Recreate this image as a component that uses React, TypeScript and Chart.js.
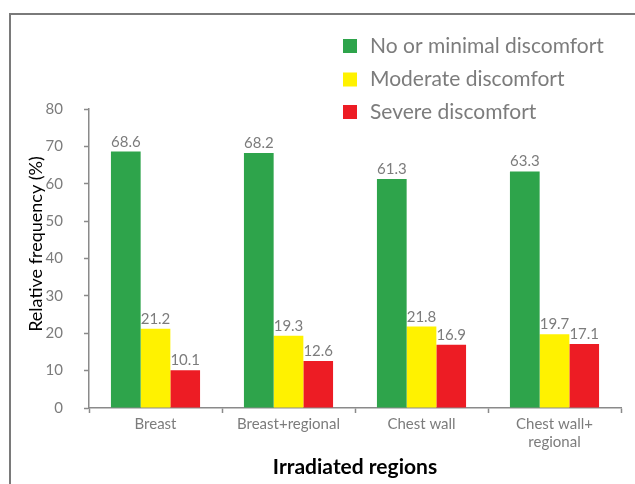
import React, { useEffect, useRef } from "react";
import { Chart, registerables } from "chart.js";

Chart.register(...registerables);

const categories: (string | string[])[] = ["Breast", "Breast+regional", "Chest wall", ["Chest wall+", "regional"]];
const seriesNames = ["No or minimal discomfort", "Moderate discomfort", "Severe discomfort"];
const noneMinimal = [68.6, 68.2, 61.3, 63.3];
const moderate = [21.2, 19.3, 21.8, 19.7];
const severe = [10.1, 12.6, 16.9, 17.1];
const seriesColors = ["#2ea44b", "#fff200", "#ed1c24"];
const yTicks = [0, 10, 20, 30, 40, 50, 60, 70, 80];
const yTitle = "Relative frequency (%)";
const xTitle = "Irradiated regions";

const FONT = "Lato, 'Open Sans', sans-serif";
const GRAY = "#7c7c7c";

const framePlugin = {
  id: "frame",
  beforeDraw(chart: any) {
    const ctx = chart.ctx;
    ctx.save();
    ctx.strokeStyle = "#7a7a7a";
    ctx.lineWidth = 2;
    ctx.beginPath();
    ctx.moveTo(10, chart.height);
    ctx.lineTo(10, 14);
    ctx.lineTo(chart.width, 14);
    ctx.stroke();
    ctx.restore();
  },
};

const yTitlePlugin = {
  id: "yTitle",
  afterDraw(chart: any) {
    const ctx = chart.ctx;
    ctx.save();
    ctx.translate(36, 244);
    ctx.rotate(-Math.PI / 2);
    ctx.font = `18px ${FONT}`;
    ctx.fillStyle = "#000";
    ctx.textAlign = "center";
    ctx.textBaseline = "middle";
    ctx.fillText(yTitle, 0, 0);
    ctx.restore();
  },
};

const valueLabelPlugin = {
  id: "valueLabels",
  afterDatasetsDraw(chart: any) {
    const ctx = chart.ctx;
    ctx.save();
    ctx.font = `15px ${FONT}`;
    ctx.fillStyle = GRAY;
    ctx.textAlign = "center";
    ctx.textBaseline = "alphabetic";
    chart.data.datasets.forEach((ds: any, di: number) => {
      const meta = chart.getDatasetMeta(di);
      meta.data.forEach((bar: any, i: number) => {
        ctx.fillText(ds.data[i].toFixed(1), bar.x, bar.y - 5);
      });
    });
    ctx.restore();
  },
};

const customLegendPlugin = {
  id: "customLegend",
  afterDraw(chart: any) {
    const ctx = chart.ctx;
    const rows = [46, 79.5, 112];
    ctx.save();
    ctx.font = `21px ${FONT}`;
    ctx.textBaseline = "middle";
    ctx.textAlign = "left";
    chart.data.datasets.forEach((ds: any, di: number) => {
      const cy = rows[di];
      ctx.fillStyle = ds.backgroundColor;
      ctx.fillRect(343, cy - 7, 14, 14);
      ctx.fillStyle = GRAY;
      ctx.fillText(ds.label, 370, cy);
    });
    ctx.restore();
  },
};

export default function App() {
  const ref = useRef<HTMLCanvasElement>(null);
  useEffect(() => {
    if (!ref.current) return;
    const seriesData = [noneMinimal, moderate, severe];
    const chart = new Chart(ref.current, {
      type: "bar",
      data: {
        labels: categories,
        datasets: seriesNames.map((name, i) => ({
          label: name,
          data: seriesData[i],
          backgroundColor: seriesColors[i],
          borderWidth: 0,
          categoryPercentage: 0.67,
          barPercentage: 1.0,
        })),
      },
      options: {
        responsive: false,
        animation: false,
        layout: { padding: { top: 109, right: 14, left: 0, bottom: 0 } },
        plugins: {
          legend: { display: false },
          tooltip: { enabled: false },
        },
        scales: {
          x: {
            afterFit: (s: any) => { s.height = 76; },
            grid: {
              display: true,
              drawOnChartArea: false,
              drawTicks: true,
              tickLength: 5,
              tickColor: "#8a8a8a",
              tickWidth: 1.5,
              offset: true,
            },
            border: { display: true, color: "#8a8a8a", width: 1.5 },
            ticks: {
              color: GRAY,
              font: { family: FONT, size: 15 },
              padding: 2,
              maxRotation: 0,
              autoSkip: false,
            },
            title: {
              display: true,
              text: xTitle,
              color: "#000",
              font: { family: FONT, size: 21, weight: "bold" },
              padding: { top: 0, bottom: 4 },
            },
          },
          y: {
            min: 0,
            max: 80,
            afterFit: (s: any) => { s.width = 89; },
            afterBuildTicks: (s: any) => { s.ticks = yTicks.map((v) => ({ value: v })); },
            grid: {
              display: true,
              drawOnChartArea: false,
              drawTicks: true,
              tickLength: 5,
              tickColor: "#8a8a8a",
              tickWidth: 1.5,
            },
            border: { display: true, color: "#8a8a8a", width: 1.5 },
            ticks: {
              color: GRAY,
              font: { family: FONT, size: 15 },
              padding: 21,
            },
            title: { display: false },
          },
        },
      },
      plugins: [framePlugin, valueLabelPlugin, customLegendPlugin, yTitlePlugin],
    } as any);
    return () => chart.destroy();
  }, []);
  return (
    <div style={{ position: "absolute", left: 0, top: 0, width: 635, height: 484, background: "#fff" }}>
      <canvas ref={ref} width={635} height={484} style={{ display: "block", width: 635, height: 484 }} />
    </div>
  );
}
